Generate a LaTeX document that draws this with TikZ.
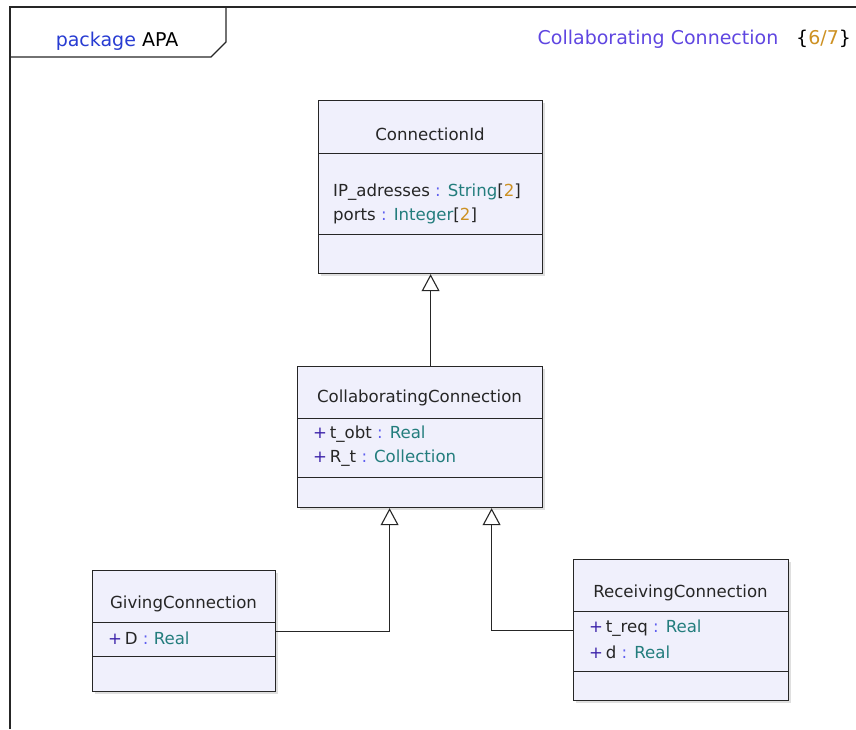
\documentclass[tikz,border=0pt]{standalone}
\usepackage{fontspec}
\setmainfont{DejaVu Sans}
\usetikzlibrary{arrows.meta,shadows}

\definecolor{boxfill}{RGB}{240,240,252}
\definecolor{pkgblue}{RGB}{40,60,210}
\definecolor{titleblue}{RGB}{95,70,225}
\definecolor{numgold}{RGB}{205,145,35}
\definecolor{typeteal}{RGB}{35,125,125}
\definecolor{plusblue}{RGB}{60,35,170}
\definecolor{colonblue}{RGB}{95,95,240}

\tikzset{
  classbox/.style={draw=black!85, line width=1.2pt, fill=boxfill, inner sep=0pt,
    anchor=north west, drop shadow={shadow xshift=2pt, shadow yshift=-2pt, opacity=0.25}},
  classname/.style={font=\fontsize{16.6}{19}\selectfont, text=black!85},
  attr/.style={font=\fontsize{16.6}{19}\selectfont, text=black!85, anchor=west, inner sep=0pt},
  headtext/.style={font=\fontsize{19}{22}\selectfont, inner sep=0pt},
  genarrow/.style={draw=black!85, line width=1.1pt,
    -{Triangle[open, width=18pt, length=17pt, fill=white]}},
}
\newcommand{\typ}[1]{{\color{colonblue}:} {\color{typeteal}#1}}
\newcommand{\pls}{{\color{plusblue}+}\,}

\begin{document}
\begin{tikzpicture}[x=1pt, y=-1pt]
      \useasboundingbox (0,0) rectangle (856,729);

      % frame and tab
      \draw[line width=1.3pt, black!85] (10,729) -- (10,7) -- (856,7);
      \draw[line width=1.3pt, black!85] (10,57) -- (211,57) -- (226,42) -- (226,7);
      \node[headtext] (pkg) at (117,41){{\color{pkgblue}package} APA};
      \node[headtext, text=titleblue] (title) at (658,39){Collaborating Connection};
      \node[headtext, anchor=west] (page) at (796,39){\{{\color{numgold}6}{\color{numgold}/}{\color{numgold}7}\}};

      % ConnectionId
      \node[classbox, minimum width=224pt, minimum height=173pt] (cid) at (318,100){};
      \draw[black!85] ([yshift=-53pt]cid.north west) to ([yshift=-53pt]cid.north east);
      \draw[black!85] ([yshift=-134pt]cid.north west) to ([yshift=-134pt]cid.north east);
      \node[classname] (cidname) at (430,134){ConnectionId};
      \node[attr] (cidip) at (333,192){IP\_adresses \typ{String}[{\color{numgold}2}]};
      \node[attr] (cidports) at (333,216){ports \typ{Integer}[{\color{numgold}2}]};

      % CollaboratingConnection
      \node[classbox, minimum width=245pt, minimum height=141pt] (collab) at (297,366){};
      \draw[black!85] ([yshift=-52pt]collab.north west) to ([yshift=-52pt]collab.north east);
      \draw[black!85] ([yshift=-111pt]collab.north west) to ([yshift=-111pt]collab.north east);
      \node[classname] (collabname) at (419.5,398){CollaboratingConnection};
      \node[attr] (collabtobt) at (313,434){\pls t\_obt \typ{Real}};
      \node[attr] (collabrt) at (313,458){\pls R\_t \typ{Collection}};

      % GivingConnection
      \node[classbox, minimum width=183pt, minimum height=121pt] (giving) at (92,570){};
      \draw[black!85] ([yshift=-52pt]giving.north west) to ([yshift=-52pt]giving.north east);
      \draw[black!85] ([yshift=-86pt]giving.north west) to ([yshift=-86pt]giving.north east);
      \node[classname] (givingname) at (183.5,604){GivingConnection};
      \node[attr] (givingd) at (108,638){\pls D \typ{Real}};

      % ReceivingConnection
      \node[classbox, minimum width=215pt, minimum height=141pt] (receiving) at (573,559){};
      \draw[black!85] ([yshift=-52pt]receiving.north west) to ([yshift=-52pt]receiving.north east);
      \draw[black!85] ([yshift=-112pt]receiving.north west) to ([yshift=-112pt]receiving.north east);
      \node[classname] (receivingname) at (680.5,593){ReceivingConnection};
      \node[attr] (receivingtreq) at (589,628){\pls t\_req \typ{Real}};
      \node[attr] (receivingd) at (589,652){\pls d \typ{Real}};

      % generalisations
      \draw[genarrow] (collab.north -| cid.south) to (cid.south);
      \draw[genarrow] (giving.east) -| ([xshift=-30.5pt]collab.south);
      \draw[genarrow] (receiving.west) -| ([xshift=71.5pt]collab.south);
    \end{tikzpicture}
\end{document}
